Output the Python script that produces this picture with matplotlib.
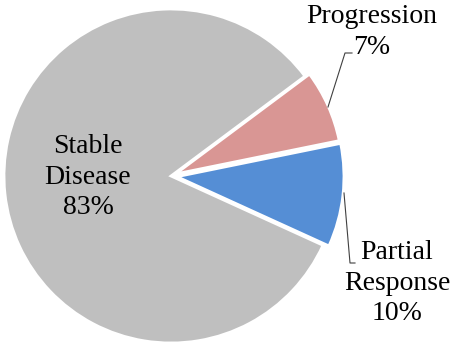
import numpy as np
import matplotlib.pyplot as plt

labels = ["Partial\nResponse", "Progression", "Stable\nDisease"]
shares = [10, 7, 83]
colors = ["#558ED5", "#D99694", "#BFBFBF"]

plt.rcParams['font.family'] = ['Liberation Serif', 'DejaVu Serif']

fig = plt.figure(figsize=(4.53, 3.48), dpi=100)
ax = fig.add_axes([0, 0, 1, 1])

H = 348
wedges, _ = ax.pie(shares, colors=colors, startangle=-24.5, counterclock=True,
                   center=(171, H - 176), radius=167, explode=[6, 5, 0],
                   wedgeprops=dict(edgecolor="white", linewidth=2))

ax.set_xlim(0, 453)
ax.set_ylim(0, H)
ax.set_aspect('equal')
ax.axis('off')

fs = 20
ax.text(88, H - 177, "Stable\nDisease\n%d%%" % shares[2], ha="center", va="center",
        fontsize=fs, linespacing=1.3)
ax.text(372, H - 32, "Progression\n%d%%" % shares[1], ha="center", va="center",
        fontsize=fs, linespacing=1.3)
ax.text(397, H - 283, "Partial\nResponse\n%d%%" % shares[0], ha="center", va="center",
        fontsize=fs, linespacing=1.3)

# leader lines
ax.plot([328, 345, 352], [H - 107, H - 53, H - 53], color="#404040", lw=0.8)
ax.plot([344, 350, 355], [H - 193, H - 263, H - 263], color="#404040", lw=0.8)

fig.savefig("out.png", dpi=100)
